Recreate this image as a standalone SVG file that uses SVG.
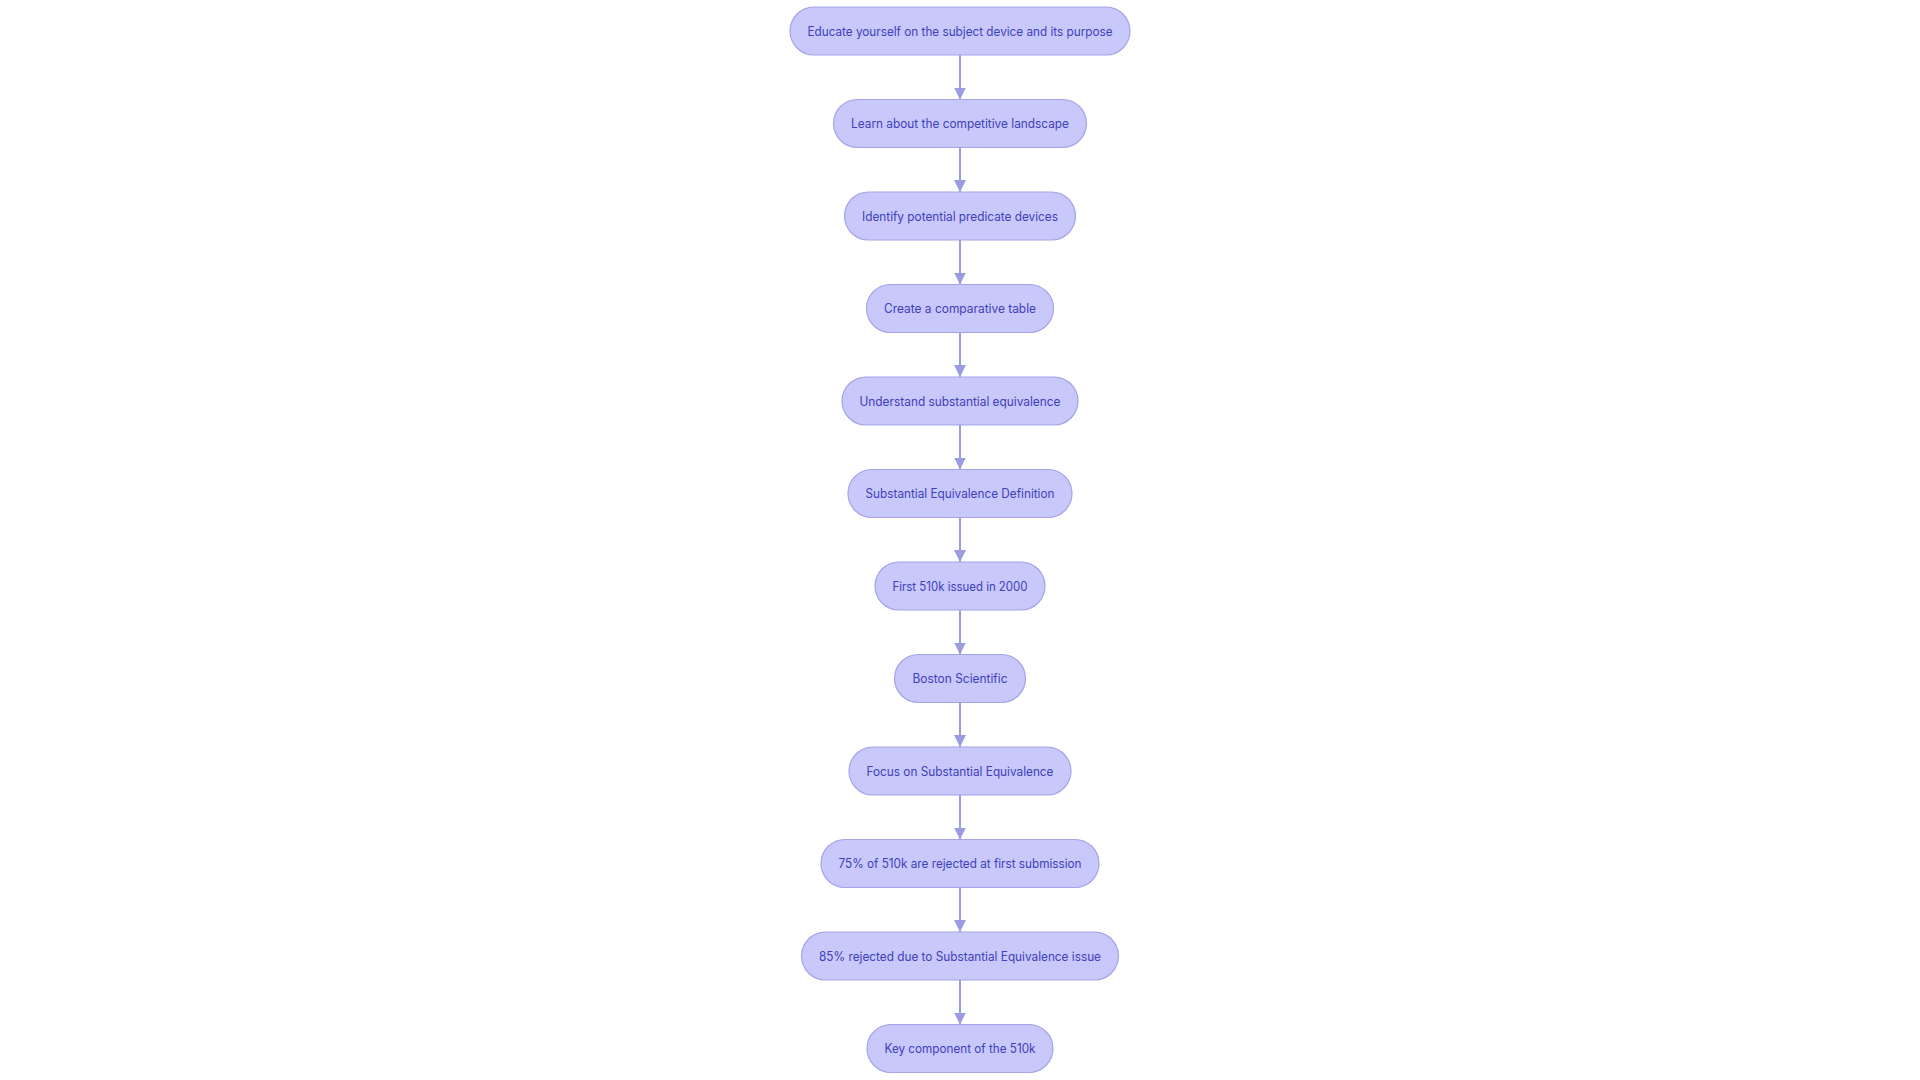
<svg xmlns="http://www.w3.org/2000/svg" width="1920" height="1080" viewBox="0 0 1920 1080">
<style>
.node rect{fill:#C8C8FA;stroke:#A3A3E8;stroke-width:1.2}
.node text{font-family:Inter,"Liberation Sans",sans-serif;font-size:12.5px;fill:#4040BC;text-anchor:middle;dominant-baseline:central}
.edge{stroke:#9B9BE0;stroke-width:2;fill:none}
</style>
<defs>
<marker id="arrow" markerUnits="userSpaceOnUse" markerWidth="12" markerHeight="12" viewBox="0 0 10 10" refX="10" refY="5" orient="auto">
<path d="M0,0 L10,5 L0,10 z" fill="#9B9BE0"/>
</marker>
</defs>
<rect width="1920" height="1080" fill="#FFFFFF"/>
<g id="connectors">
<path class="edge" d="M960,55 L960,99.5" marker-end="url(#arrow)"/>
<path class="edge" d="M960,147.5 L960,192" marker-end="url(#arrow)"/>
<path class="edge" d="M960,240 L960,284.5" marker-end="url(#arrow)"/>
<path class="edge" d="M960,332.5 L960,377" marker-end="url(#arrow)"/>
<path class="edge" d="M960,425 L960,469.5" marker-end="url(#arrow)"/>
<path class="edge" d="M960,517.5 L960,562" marker-end="url(#arrow)"/>
<path class="edge" d="M960,610 L960,654.5" marker-end="url(#arrow)"/>
<path class="edge" d="M960,702.5 L960,747" marker-end="url(#arrow)"/>
<path class="edge" d="M960,795 L960,839.5" marker-end="url(#arrow)"/>
<path class="edge" d="M960,887.5 L960,932" marker-end="url(#arrow)"/>
<path class="edge" d="M960,980 L960,1024.5" marker-end="url(#arrow)"/>
</g>
<g id="n1" class="node"><rect x="790" y="7" width="340" height="48" rx="24"/><text x="960" y="31" textLength="305" lengthAdjust="spacingAndGlyphs">Educate yourself on the subject device and its purpose</text></g>
<g id="n2" class="node"><rect x="833.5" y="99.5" width="253" height="48" rx="24"/><text x="960" y="123.5" textLength="218" lengthAdjust="spacingAndGlyphs">Learn about the competitive landscape</text></g>
<g id="n3" class="node"><rect x="844.5" y="192" width="231" height="48" rx="24"/><text x="960" y="216" textLength="196" lengthAdjust="spacingAndGlyphs">Identify potential predicate devices</text></g>
<g id="n4" class="node"><rect x="866.5" y="284.5" width="187" height="48" rx="24"/><text x="960" y="308.5" textLength="152" lengthAdjust="spacingAndGlyphs">Create a comparative table</text></g>
<g id="n5" class="node"><rect x="842" y="377" width="236" height="48" rx="24"/><text x="960" y="401" textLength="201" lengthAdjust="spacingAndGlyphs">Understand substantial equivalence</text></g>
<g id="n6" class="node"><rect x="848" y="469.5" width="224" height="48" rx="24"/><text x="960" y="493.5" textLength="189" lengthAdjust="spacingAndGlyphs">Substantial Equivalence Definition</text></g>
<g id="n7" class="node"><rect x="875" y="562" width="170" height="48" rx="24"/><text x="960" y="586" textLength="135" lengthAdjust="spacingAndGlyphs">First 510k issued in 2000</text></g>
<g id="n8" class="node"><rect x="894.5" y="654.5" width="131" height="48" rx="24"/><text x="960" y="678.5" textLength="95" lengthAdjust="spacingAndGlyphs">Boston Scientific</text></g>
<g id="n9" class="node"><rect x="849" y="747" width="222" height="48" rx="24"/><text x="960" y="771" textLength="187" lengthAdjust="spacingAndGlyphs">Focus on Substantial Equivalence</text></g>
<g id="n10" class="node"><rect x="821" y="839.5" width="278" height="48" rx="24"/><text x="960" y="863.5" textLength="243" lengthAdjust="spacingAndGlyphs">75% of 510k are rejected at first submission</text></g>
<g id="n11" class="node"><rect x="801.5" y="932" width="317" height="48" rx="24"/><text x="960" y="956" textLength="282" lengthAdjust="spacingAndGlyphs">85% rejected due to Substantial Equivalence issue</text></g>
<g id="n12" class="node"><rect x="867" y="1024.5" width="186" height="48" rx="24"/><text x="960" y="1048.5" textLength="151" lengthAdjust="spacingAndGlyphs">Key component of the 510k</text></g>
</svg>
